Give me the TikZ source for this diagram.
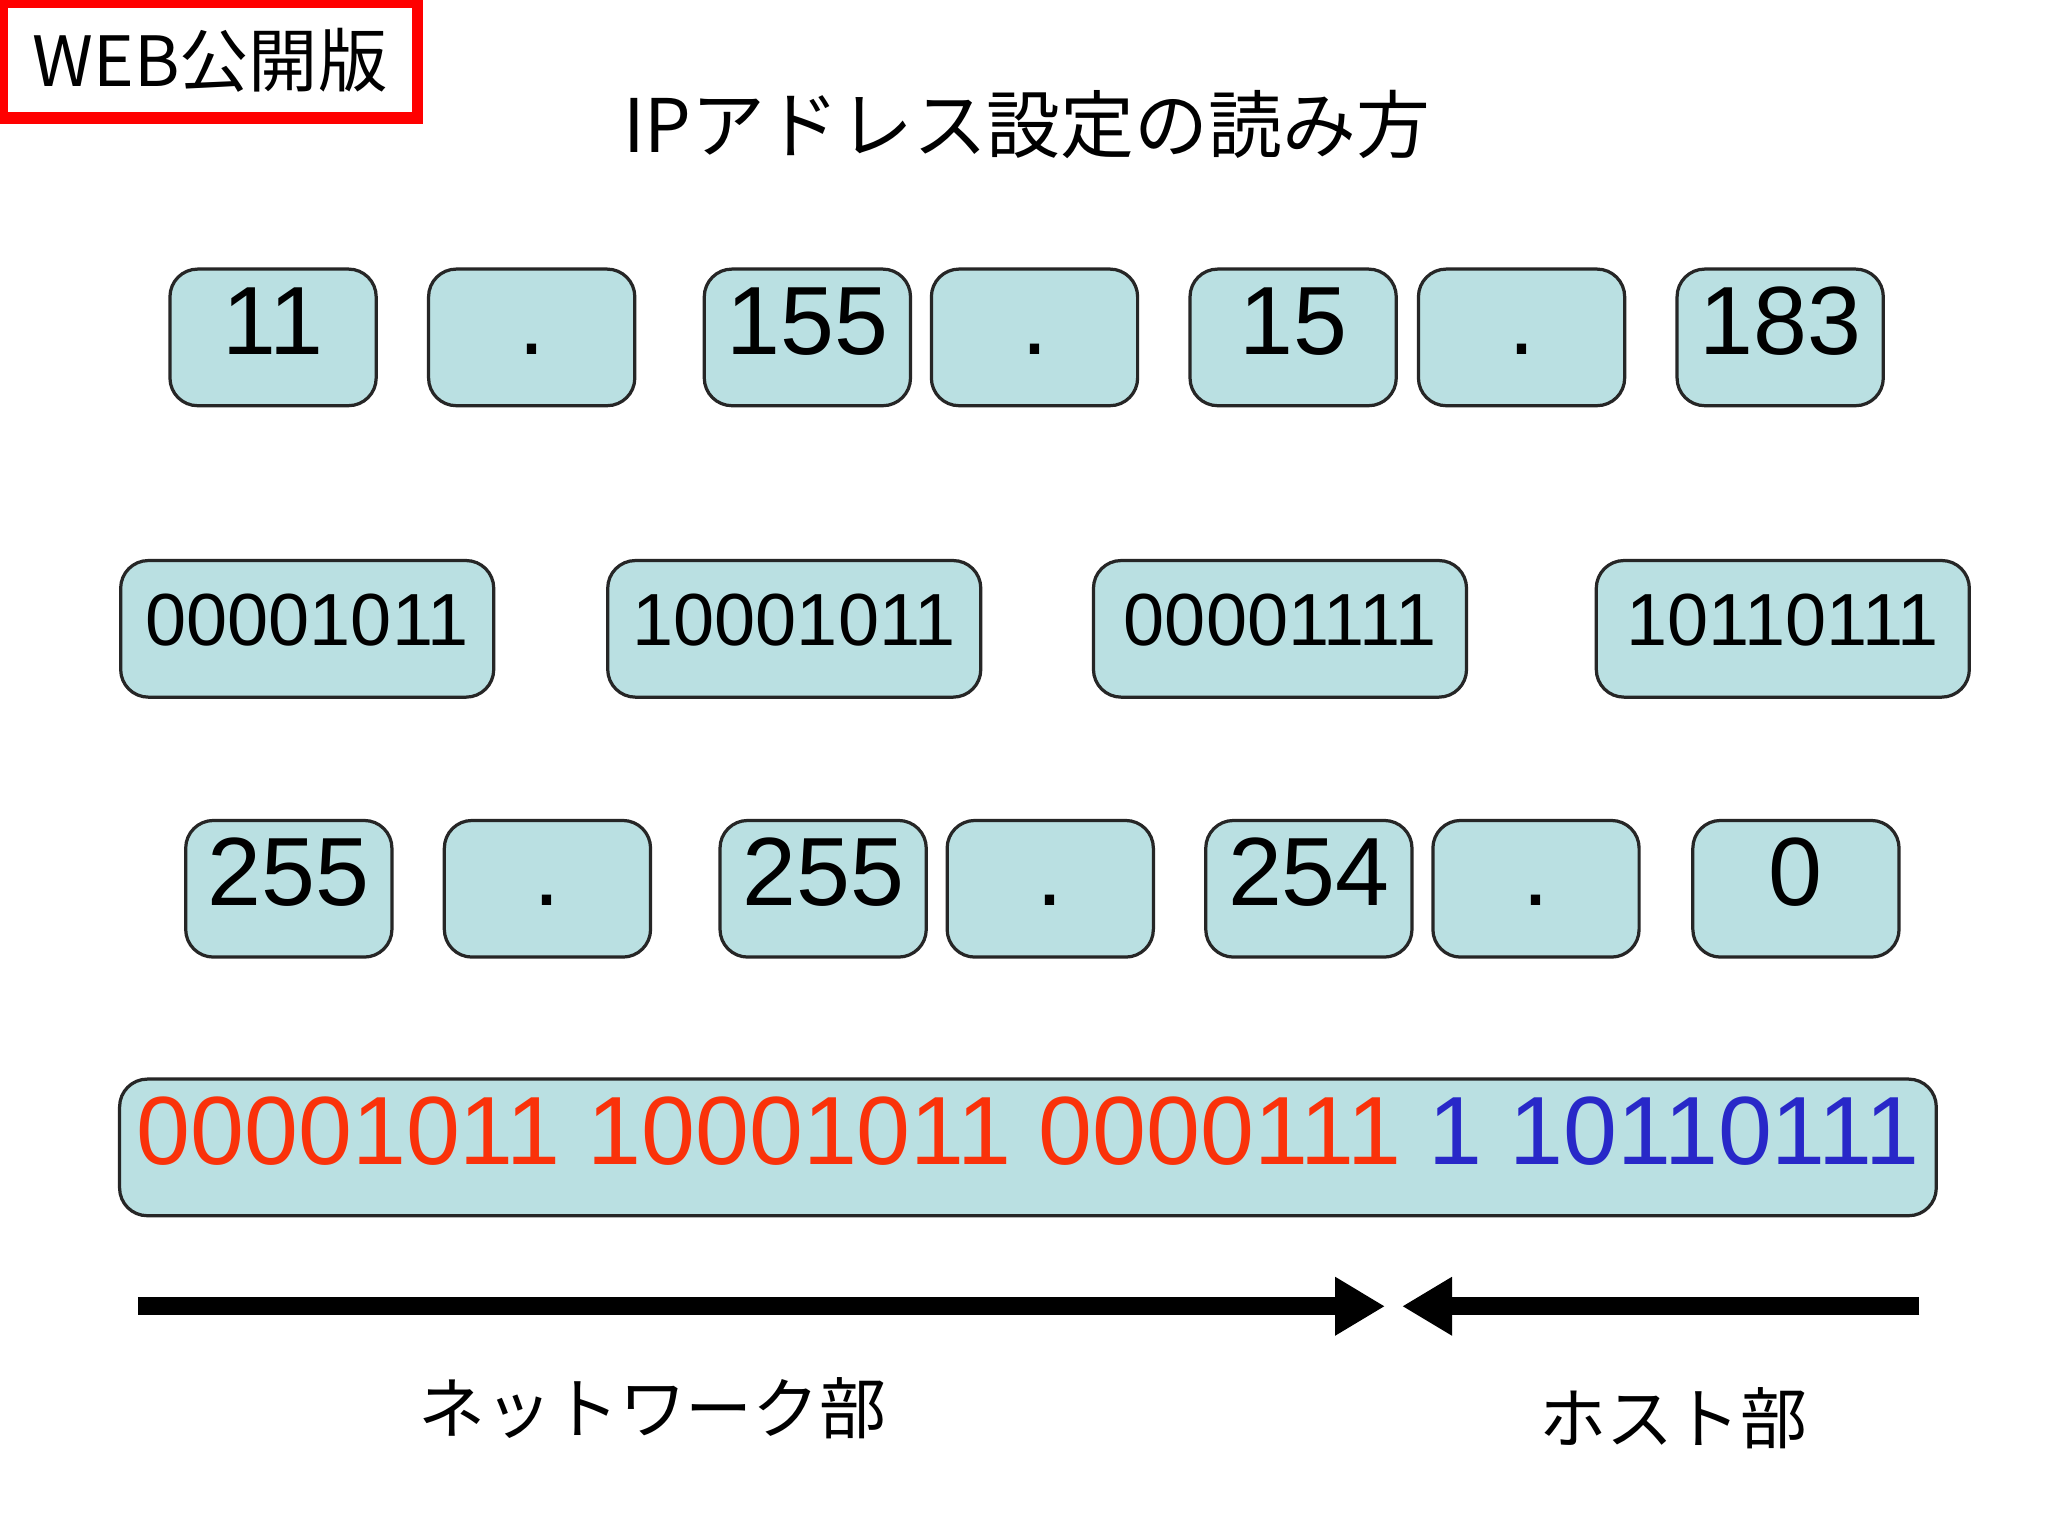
\documentclass[tikz,border=0pt]{standalone}
\usepackage{fontspec}
\setmainfont{Liberation Sans}
\newfontfamily\jp{Noto Sans CJK JP}
\usetikzlibrary{arrows.meta}
\definecolor{boxfill}{RGB}{186,224,226}
\definecolor{netred}{RGB}{250,50,10}
\definecolor{hostblue}{RGB}{40,40,200}
\tikzset{
 cell/.style={draw=black!85,fill=boxfill,rounded corners=6pt,line width=0.7pt,minimum height=1.04cm,inner sep=0pt,text height=0.72em,text depth=0pt},
 dec/.style={cell,minimum width=1.57cm,font=\fontsize{21}{21}\selectfont},
 bin/.style={cell,minimum width=2.84cm,font=\fontsize{16}{16}\selectfont},
 arr/.style={line width=4pt,-{Triangle[length=0.38cm,width=0.42cm]}}
}
\begin{document}
\begin{tikzpicture}[x=0.01cm,y=-0.01cm]
\useasboundingbox[fill=white] (0,0) rectangle (1560,1170);
\node[draw=red,line width=2.5pt,minimum width=3.16cm,minimum height=0.88cm,font=\jp\fontsize{15}{15}\selectfont] (web) at (160,46) {WEB公開版};
\node[font=\jp\fontsize{16}{16}\selectfont] (title) at (782,95) {IPアドレス設定の読み方};
% row 1
\node[dec] (a1) at (208,257) {11};
\node[dec] (d1) at (405,257) {.};
\node[dec] (a2) at (615,257) {155};
\node[dec] (d2) at (788,257) {.};
\node[dec] (a3) at (985,257) {15};
\node[dec] (d3) at (1159,257) {.};
\node[dec] (a4) at (1356,257) {183};
% row 2
\node[bin] (b1) at (234,479) {00001011};
\node[bin] (b2) at (605,479) {10001011};
\node[bin] (b3) at (975,479) {00001111};
\node[bin] (b4) at (1358,479) {10110111};
% row 3
\node[dec] (m1) at (220,677) {255};
\node[dec] (e1) at (417,677) {.};
\node[dec] (m2) at (627,677) {255};
\node[dec] (e2) at (800,677) {.};
\node[dec] (m3) at (997,677) {254};
\node[dec] (e3) at (1170,677) {.};
\node[dec] (m4) at (1368,677) {0};
% row 4
\node[cell,minimum width=13.83cm,font=\fontsize{21}{21}\selectfont] (all) at (783,874)
 {\textcolor{netred}{00001011 10001011 0000111} \textcolor{hostblue}{1 10110111}};
% arrows
\coordinate (nl) at (105,995);
\coordinate (nr) at (1055,995);
\coordinate (hr) at (1462,995);
\coordinate (hl) at (1068,995);
\draw[arr] (nl) -- (nr);
\draw[arr] (hr) -- (hl);
\node[font=\jp\fontsize{14.5}{14.5}\selectfont] (net) at (497,1073) {ネットワーク部};
\node[font=\jp\fontsize{14.5}{14.5}\selectfont] (host) at (1275,1080) {ホスト部};
\end{tikzpicture}
\end{document}
